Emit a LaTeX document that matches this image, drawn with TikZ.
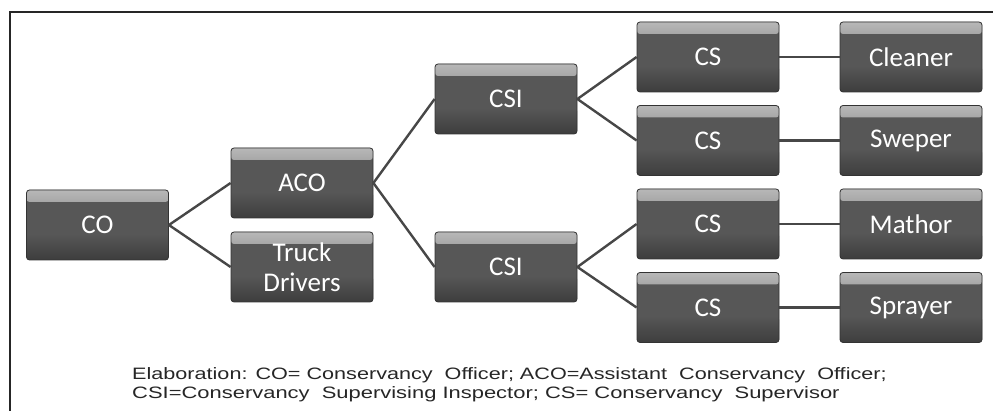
\documentclass[tikz,border=0pt]{standalone}
\usepackage{fontspec}
\setmainfont{Liberation Sans}
\newfontfamily\boxfont{Carlito}
\begin{document}
\begin{tikzpicture}[x=1pt,y=-1pt,
  bx/.style={draw=black!80, line width=0.8pt, rounded corners=3pt,
    minimum width=142pt, minimum height=70pt, fill=black!66,
    text=white, font=\boxfont\fontsize{27}{30}\selectfont, align=center, inner sep=0pt,
    path picture={
      \shade[top color=black!28, bottom color=black!66]
        (path picture bounding box.north west) rectangle ([yshift=-12pt]path picture bounding box.north east);
      \shade[top color=black!66, bottom color=black!76]
        ([yshift=26pt]path picture bounding box.south west) rectangle (path picture bounding box.south east);
    }},
  ln/.style={draw=black!72, line width=2.4pt},
  note/.style={anchor=base west, inner sep=0pt, font=\fontsize{16.5}{19}\selectfont, text=black!85}]
\useasboundingbox (0,0) rectangle (993,411);
\fill[white] (0,0) rectangle (993,411);
\draw[line width=1.6pt, black!85] (10,430) -- (10,12) -- (1000,12);

\node[bx] (co) at (97.5,225) {CO};
\node[bx] (aco) at (302,183) {ACO};
\node[bx] (truck) at (302,267) {Truck\\Drivers};
\node[bx] (csi1) at (506,99) {CSI};
\node[bx] (csi2) at (506,267) {CSI};
\node[bx] (cs1) at (708,57) {CS};
\node[bx] (cs2) at (708,140.5) {CS};
\node[bx] (cs3) at (708,224) {CS};
\node[bx] (cs4) at (708,307.5) {CS};
\node[bx] (cleaner) at (911,57) {Cleaner};
\node[bx] (sweper) at (911,140.5) {Sweper};
\node[bx] (mathor) at (911,224) {Mathor};
\node[bx] (sprayer) at (911,307.5) {Sprayer};

\draw[ln] (co.east) -- (aco.west);
\draw[ln] (co.east) -- (truck.west);
\draw[ln] (aco.east) -- (csi1.west);
\draw[ln] (aco.east) -- (csi2.west);
\draw[ln] (csi1.east) -- (cs1.west);
\draw[ln] (csi1.east) -- (cs2.west);
\draw[ln] (csi2.east) -- (cs3.west);
\draw[ln] (csi2.east) -- (cs4.west);
\draw[ln] (cs1.east) -- (cleaner.west);
\draw[ln] (cs2.east) -- (sweper.west);
\draw[ln] (cs3.east) -- (mathor.west);
\draw[ln] (cs4.east) -- (sprayer.west);

\node[note] (n1) at (132,380) {\scalebox{1.31}[1]{Elaboration: CO= Conservancy\ \ Officer; ACO=Assistant\ \ Conservancy\ \ Officer;}};
\node[note] (n2) at (132,399) {\scalebox{1.33}[1]{CSI=Conservancy\ \ Supervising Inspector; CS= Conservancy\ \ Supervisor}};
\end{tikzpicture}
\end{document}
